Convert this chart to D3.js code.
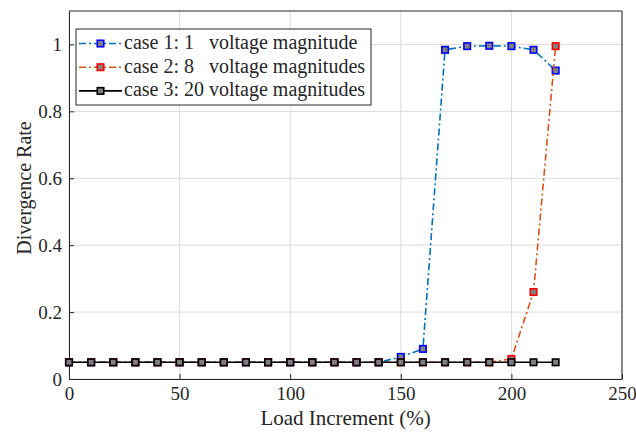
<!DOCTYPE html>
<html lang="en">
<head>
<meta charset="UTF-8">
<script src="https://d3js.org/d3.v7.min.js"></script>
<style>
  body { margin: 0; background: #fff; }
  text { font-family: "Liberation Serif", "Times New Roman", serif; fill: #262626; }
</style>
</head>
<body>
<svg width="636" height="436"></svg>
<script>
  // load increments (%)
  const loadSteps = [0, 10, 20, 30, 40, 50, 60, 70, 80, 90, 100, 110, 120, 130, 140, 150, 160, 170, 180, 190, 200, 210, 220];
  const case1 = [0.05, 0.05, 0.05, 0.05, 0.05, 0.05, 0.05, 0.05, 0.05, 0.05, 0.05, 0.05, 0.05, 0.05, 0.05, 0.066, 0.09, 0.984, 0.995, 0.996, 0.995, 0.984, 0.922];
  const case2 = [0.05, 0.05, 0.05, 0.05, 0.05, 0.05, 0.05, 0.05, 0.05, 0.05, 0.05, 0.05, 0.05, 0.05, 0.05, 0.05, 0.05, 0.05, 0.05, 0.05, 0.06, 0.26, 0.995];
  const case3 = [0.05, 0.05, 0.05, 0.05, 0.05, 0.05, 0.05, 0.05, 0.05, 0.05, 0.05, 0.05, 0.05, 0.05, 0.05, 0.05, 0.05, 0.05, 0.05, 0.05, 0.05, 0.05, 0.05];
  const seriesNames = ["case 1: 1   voltage magnitude", "case 2: 8   voltage magnitudes", "case 3: 20 voltage magnitudes"];
  const xTicks = [0, 50, 100, 150, 200, 250];
  const yTicks = [0, 0.2, 0.4, 0.6, 0.8, 1];

  const series = [
    { name: seriesNames[0], values: case1, line: "#0072BD", edge: "#0000ff", dash: "7,3,2,3" },
    { name: seriesNames[1], values: case2, line: "#D95319", edge: "#ff0000", dash: "7,3,2,3" },
    { name: seriesNames[2], values: case3, line: "#000000", edge: "#000000", dash: null }
  ];

  const margin = { top: 11, right: 14, bottom: 57, left: 69 },
    width = 636 - margin.left - margin.right,
    height = 436 - margin.top - margin.bottom;

  const svg = d3.select("svg").append("g")
    .attr("transform", `translate(${margin.left},${margin.top})`);

  const x = d3.scaleLinear().domain([0, 250]).range([0, width]);
  const y = d3.scaleLinear().domain([0, 1.1]).range([height, 0]);

  // grid
  svg.append("g").selectAll("line").data(xTicks).join("line")
    .attr("x1", d => x(d)).attr("x2", d => x(d))
    .attr("y1", 0).attr("y2", height)
    .attr("stroke", "#dcdcdc").attr("stroke-width", 1);
  svg.append("g").selectAll("line").data(yTicks).join("line")
    .attr("x1", 0).attr("x2", width)
    .attr("y1", d => y(d)).attr("y2", d => y(d))
    .attr("stroke", "#dcdcdc").attr("stroke-width", 1);

  // axes, ticks inward like matlab
  const xAxis = svg.append("g").attr("transform", `translate(0,${height})`)
    .call(d3.axisBottom(x).tickValues(xTicks).tickSize(-5).tickPadding(8).tickSizeOuter(0));
  const yAxis = svg.append("g")
    .call(d3.axisLeft(y).tickValues(yTicks).tickSize(-5).tickPadding(7).tickSizeOuter(0)
      .tickFormat(d => d3.format("")(+d.toFixed(1))));
  [xAxis, yAxis].forEach(a => {
    a.select(".domain").attr("stroke", "#262626");
    a.selectAll(".tick line").attr("stroke", "#262626");
    a.selectAll("text").style("font-size", "19px").attr("fill", "#262626")
      .style("font-family", '"Liberation Serif", serif');
  });

  // top/right box
  svg.append("line").attr("x1", 0).attr("x2", width).attr("y1", 0).attr("y2", 0).attr("stroke", "#262626");
  svg.append("line").attr("x1", width).attr("x2", width).attr("y1", 0).attr("y2", height).attr("stroke", "#262626");

  const line = d3.line().x((d, i) => x(loadSteps[i])).y(d => y(d));

  series.forEach(s => {
    svg.append("path").datum(s.values)
      .attr("d", line)
      .attr("fill", "none")
      .attr("stroke", s.line)
      .attr("stroke-width", 1.6)
      .attr("stroke-dasharray", s.dash);
    svg.append("g").selectAll("rect").data(s.values).join("rect")
      .attr("x", (d, i) => x(loadSteps[i]) - 3.25)
      .attr("y", d => y(d) - 3.25)
      .attr("width", 6.5).attr("height", 6.5)
      .attr("fill", "#808080")
      .attr("stroke", s.edge)
      .attr("stroke-width", 1.6);
  });

  // labels
  svg.append("text")
    .attr("x", width / 2).attr("y", height + 46)
    .attr("text-anchor", "middle")
    .style("font-size", "21px")
    .text("Load Increment (%)");
  svg.append("text")
    .attr("transform", `translate(${-38},${177}) rotate(-90)`)
    .attr("text-anchor", "middle")
    .style("font-size", "20px")
    .text("Divergence Rate");

  // legend
  const lg = svg.append("g").attr("transform", `translate(${76 - margin.left},${29 - margin.top})`);
  lg.append("rect").attr("width", 295).attr("height", 76)
    .attr("fill", "#fff").attr("stroke", "#262626").attr("stroke-width", 1);
  series.forEach((s, i) => {
    const cy = 14.5 + i * 23.7;
    lg.append("line").attr("x1", 3).attr("x2", 46).attr("y1", cy).attr("y2", cy)
      .attr("stroke", s.line).attr("stroke-width", 1.6).attr("stroke-dasharray", s.dash);
    lg.append("rect").attr("x", 24.5 - 3.25).attr("y", cy - 3.25).attr("width", 6.5).attr("height", 6.5)
      .attr("fill", "#808080").attr("stroke", s.edge).attr("stroke-width", 1.6);
    lg.append("text").attr("x", 48).attr("y", cy + 5.5)
      .style("font-size", "20px").style("white-space", "pre")
      .attr("xml:space", "preserve")
      .text(s.name);
  });
</script>
</body>
</html>
